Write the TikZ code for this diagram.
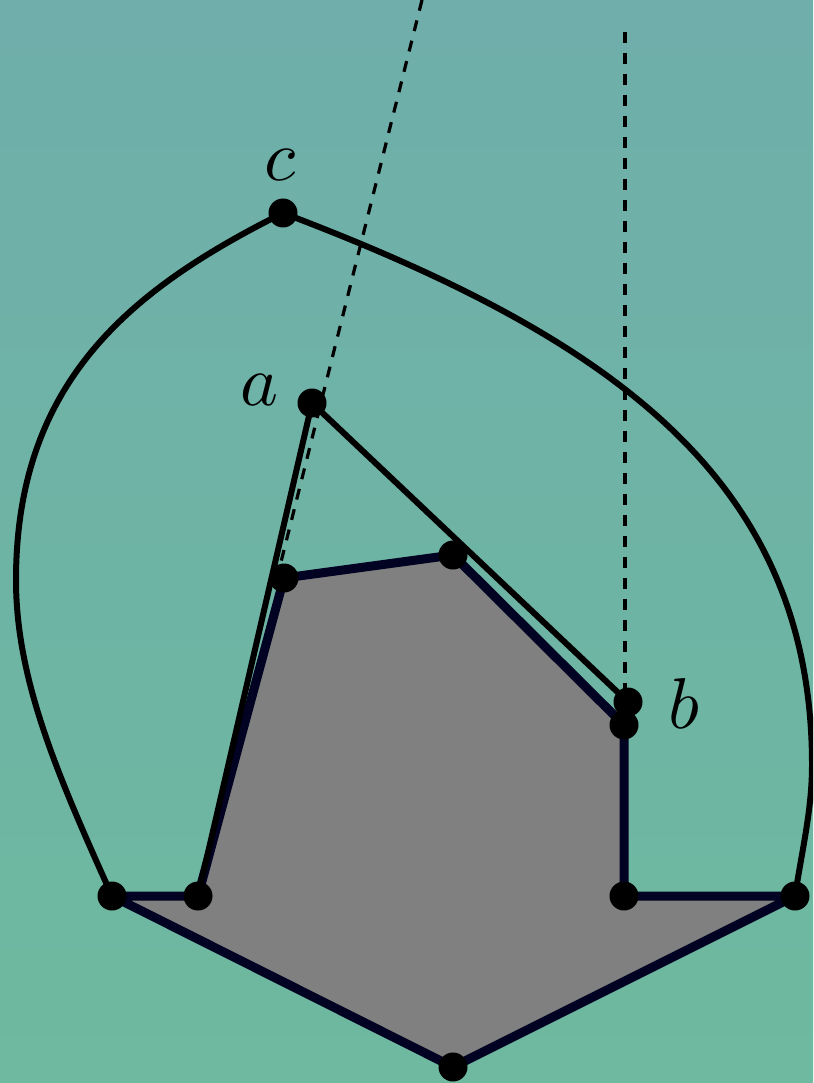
\documentclass[tikz,border=0pt]{standalone}
\usepackage{graphicx}
\definecolor{bgtop}{RGB}{111,174,171}
\definecolor{bgbot}{RGB}{110,185,159}
\definecolor{edgenavy}{RGB}{2,2,34}
\begin{document}
\begin{tikzpicture}[x=1pt,y=-1pt,
  dot/.style={circle,fill=black,inner sep=0pt,minimum size=29pt},
  thinline/.style={draw=black,line width=6pt,line cap=round,line join=round},
  polyedge/.style={draw=edgenavy,line width=9pt,line join=round,line cap=round},
  dashline/.style={draw=black,line width=3.2pt,dash pattern=on 11pt off 10pt},
  lbl/.style={inner sep=0pt}]
\useasboundingbox (0,0) rectangle (813,1083);
\clip (0,0) rectangle (813,1083);
\shade[top color=bgtop,bottom color=bgbot] (0,0) rectangle (813,1083);
% points
\coordinate (c) at (283,213);
\coordinate (a) at (312,403);
\coordinate (b) at (628,702);
\coordinate (b2) at (624,725);
\coordinate (p1) at (284,578);
\coordinate (p2) at (453,555);
\coordinate (LL) at (112,896);
\coordinate (L2) at (198,896);
\coordinate (R2) at (624,896);
\coordinate (RR) at (795,896);
\coordinate (bot) at (453,1067);
\coordinate (lm) at (16,580);
\coordinate (rm) at (812,765);
\coordinate (d1top) at (422,0);
\coordinate (d1bot) at (279,570);
\coordinate (d2top) at (625,32);
\coordinate (d2bot) at (625,690);
% polygon
\filldraw[fill=gray,polyedge] (LL) -- (L2) -- (p1) -- (p2) -- (b2) -- (R2) -- (RR) -- (bot) -- cycle;
% thin lines
\draw[thinline] (L2) -- (a) -- (b);
% curves
\draw[thinline] (c) .. controls (133,288) and (16,380) .. (lm)
  .. controls (16,680) and (58,776) .. (LL);
\draw[thinline] (c) .. controls (613,338) and (812,480) .. (rm)
  .. controls (812,810) and (802,850) .. (RR);
% dashed lines
\draw[dashline] (d1top) -- (d1bot);
\draw[dashline] (d2top) -- (d2bot);
% dots
\foreach \p in {c,a,b,b2,p1,p2,LL,L2,R2,RR,bot}
  \node[dot] (n\p) at (\p) {};
% labels
\node[lbl] (lc) at (280,165) {\scalebox{7.2}{$c$}};
\node[lbl] (la) at (260,390) {\scalebox{7.2}{$a$}};
\node[lbl] (lb) at (684,703) {\scalebox{7.2}{$b$}};
\end{tikzpicture}
\end{document}
